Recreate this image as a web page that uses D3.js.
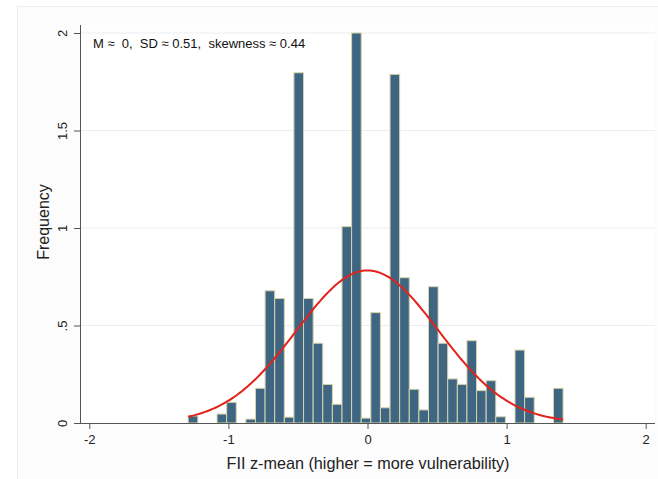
<!DOCTYPE html>
<html>
<head>
<meta charset="utf-8">
<script src="https://cdn.jsdelivr.net/npm/d3@7"></script>
<style>
  html, body { margin: 0; padding: 0; background: #ffffff; }
  svg { display: block; font-family: "Liberation Sans", Arial, Helvetica, sans-serif; }
</style>
</head>
<body>
<svg id="chart" width="658" height="479"></svg>
<script>
// ---- data ----
const binStart = -1.289;
const binWidth = 0.0691;
const binHeights = [
  0.036, 0, 0, 0.046, 0.106, 0, 0.02, 0.178, 0.678, 0.639,
  0.03, 1.796, 0.639, 0.409, 0.198, 0.096, 1.007, 2.0, 0.025, 0.566,
  0.078, 1.788, 0.745, 0.173, 0.067, 0.699, 0.409, 0.226, 0.198, 0.422,
  0.166, 0.217, 0.032, 0, 0.374, 0.132, 0, 0, 0.178
];
const xTicks = [-2, -1, 0, 1, 2];
const xTickLabels = ["-2", "-1", "0", "1", "2"];
const yTicks = [0, 0.5, 1, 1.5, 2];
const yTickLabels = ["0", ".5", "1", "1.5", "2"];
const normMean = 0;
const normSD = 0.51;
const annotation = "M \u2248  0,  SD \u2248 0.51,  skewness \u2248 0.44";
const xTitle = "FII z-mean (higher = more vulnerability)";
const yTitle = "Frequency";

// ---- layout ----
const svg = d3.select("#chart");
const W = 658, H = 479;
const plotLeft = 80, plotRight = 655, plotTop = 25, plotBottom = 423;

const x = d3.scaleLinear().domain([-2, 2]).range([89.3, 645.7]);
const y = d3.scaleLinear().domain([0, 2]).range([plotBottom, plotBottom - 390]);

// outer frame
svg.append("rect").attr("x", 0).attr("y", 0).attr("width", W).attr("height", H).attr("fill", "#ffffff");
svg.append("rect").attr("x", 17.5).attr("y", 6.5).attr("width", W - 17).attr("height", H - 6)
  .attr("fill", "#fcfcfd").attr("stroke", "#eceef1").attr("stroke-width", 1);
svg.append("rect").attr("x", plotLeft).attr("y", plotTop).attr("width", plotRight - plotLeft).attr("height", plotBottom - plotTop)
  .attr("fill", "#ffffff");

// gridlines
svg.append("g").selectAll("line").data(yTicks.filter(d => d > 0)).join("line")
  .attr("x1", plotLeft).attr("x2", plotRight)
  .attr("y1", d => y(d)).attr("y2", d => y(d))
  .attr("stroke", "#eaedf1").attr("stroke-width", 1);

// bars
const bins = binHeights.map((h, i) => ({ x0: binStart + i * binWidth, x1: binStart + (i + 1) * binWidth, h }));
svg.append("g").selectAll("rect").data(bins.filter(b => b.h > 0)).join("rect")
  .attr("x", d => x(d.x0))
  .attr("width", d => x(d.x1) - x(d.x0))
  .attr("y", d => y(d.h))
  .attr("height", d => y(0) - y(d.h))
  .attr("fill", "#3e6682")
  .attr("stroke", "#d6d4ab")
  .attr("stroke-width", 1);

// normal curve (from stated M and SD)
const xs = d3.range(0, 201).map(i => binStart + i * (binHeights.length * binWidth) / 200);
const pdf = v => Math.exp(-0.5 * ((v - normMean) / normSD) ** 2) / (normSD * Math.sqrt(2 * Math.PI));
svg.append("path")
  .datum(xs)
  .attr("d", d3.line().x(d => x(d)).y(d => y(pdf(d))).curve(d3.curveMonotoneX))
  .attr("fill", "none")
  .attr("stroke", "#e3221c")
  .attr("stroke-width", 2);

// axes
const xAxis = d3.axisBottom(x).tickValues(xTicks).tickFormat((d, i) => xTickLabels[i]).tickSize(6).tickSizeOuter(0);
const gx = svg.append("g").attr("transform", `translate(0,${plotBottom})`).call(xAxis);
gx.select(".domain").attr("d", `M${plotLeft},0.5H${plotRight}`).attr("stroke", "#555");
gx.selectAll(".tick line").attr("stroke", "#555");
gx.selectAll(".tick text").attr("font-size", 13).attr("fill", "#222").attr("dy", "0.9em");

const yAxis = d3.axisLeft(y).tickValues(yTicks).tickFormat((d, i) => yTickLabels[i]).tickSize(6).tickSizeOuter(0);
const gy = svg.append("g").attr("transform", `translate(${plotLeft},0)`).call(yAxis);
gy.select(".domain").attr("d", `M0.5,${plotTop}V${plotBottom}`).attr("stroke", "#555");
gy.selectAll(".tick line").attr("stroke", "#555");
gy.selectAll(".tick text")
  .attr("font-size", 13).attr("fill", "#222")
  .attr("x", 0).attr("dy", 0)
  .attr("text-anchor", "middle")
  .attr("transform", "translate(-13,0) rotate(-90)");

// titles
svg.append("text").attr("x", 368).attr("y", 468.5).attr("text-anchor", "middle")
  .attr("font-size", 16.2).attr("fill", "#222").text(xTitle);
svg.append("text").attr("transform", `translate(49,${(plotTop + plotBottom) / 2 - 2}) rotate(-90)`)
  .attr("text-anchor", "middle").attr("font-size", 16).attr("fill", "#222").text(yTitle);

// annotation
svg.append("text").attr("x", 93).attr("y", 47.5).attr("font-size", 13).attr("fill", "#111")
  .attr("xml:space", "preserve").style("white-space", "pre").text(annotation);
</script>
</body>
</html>
